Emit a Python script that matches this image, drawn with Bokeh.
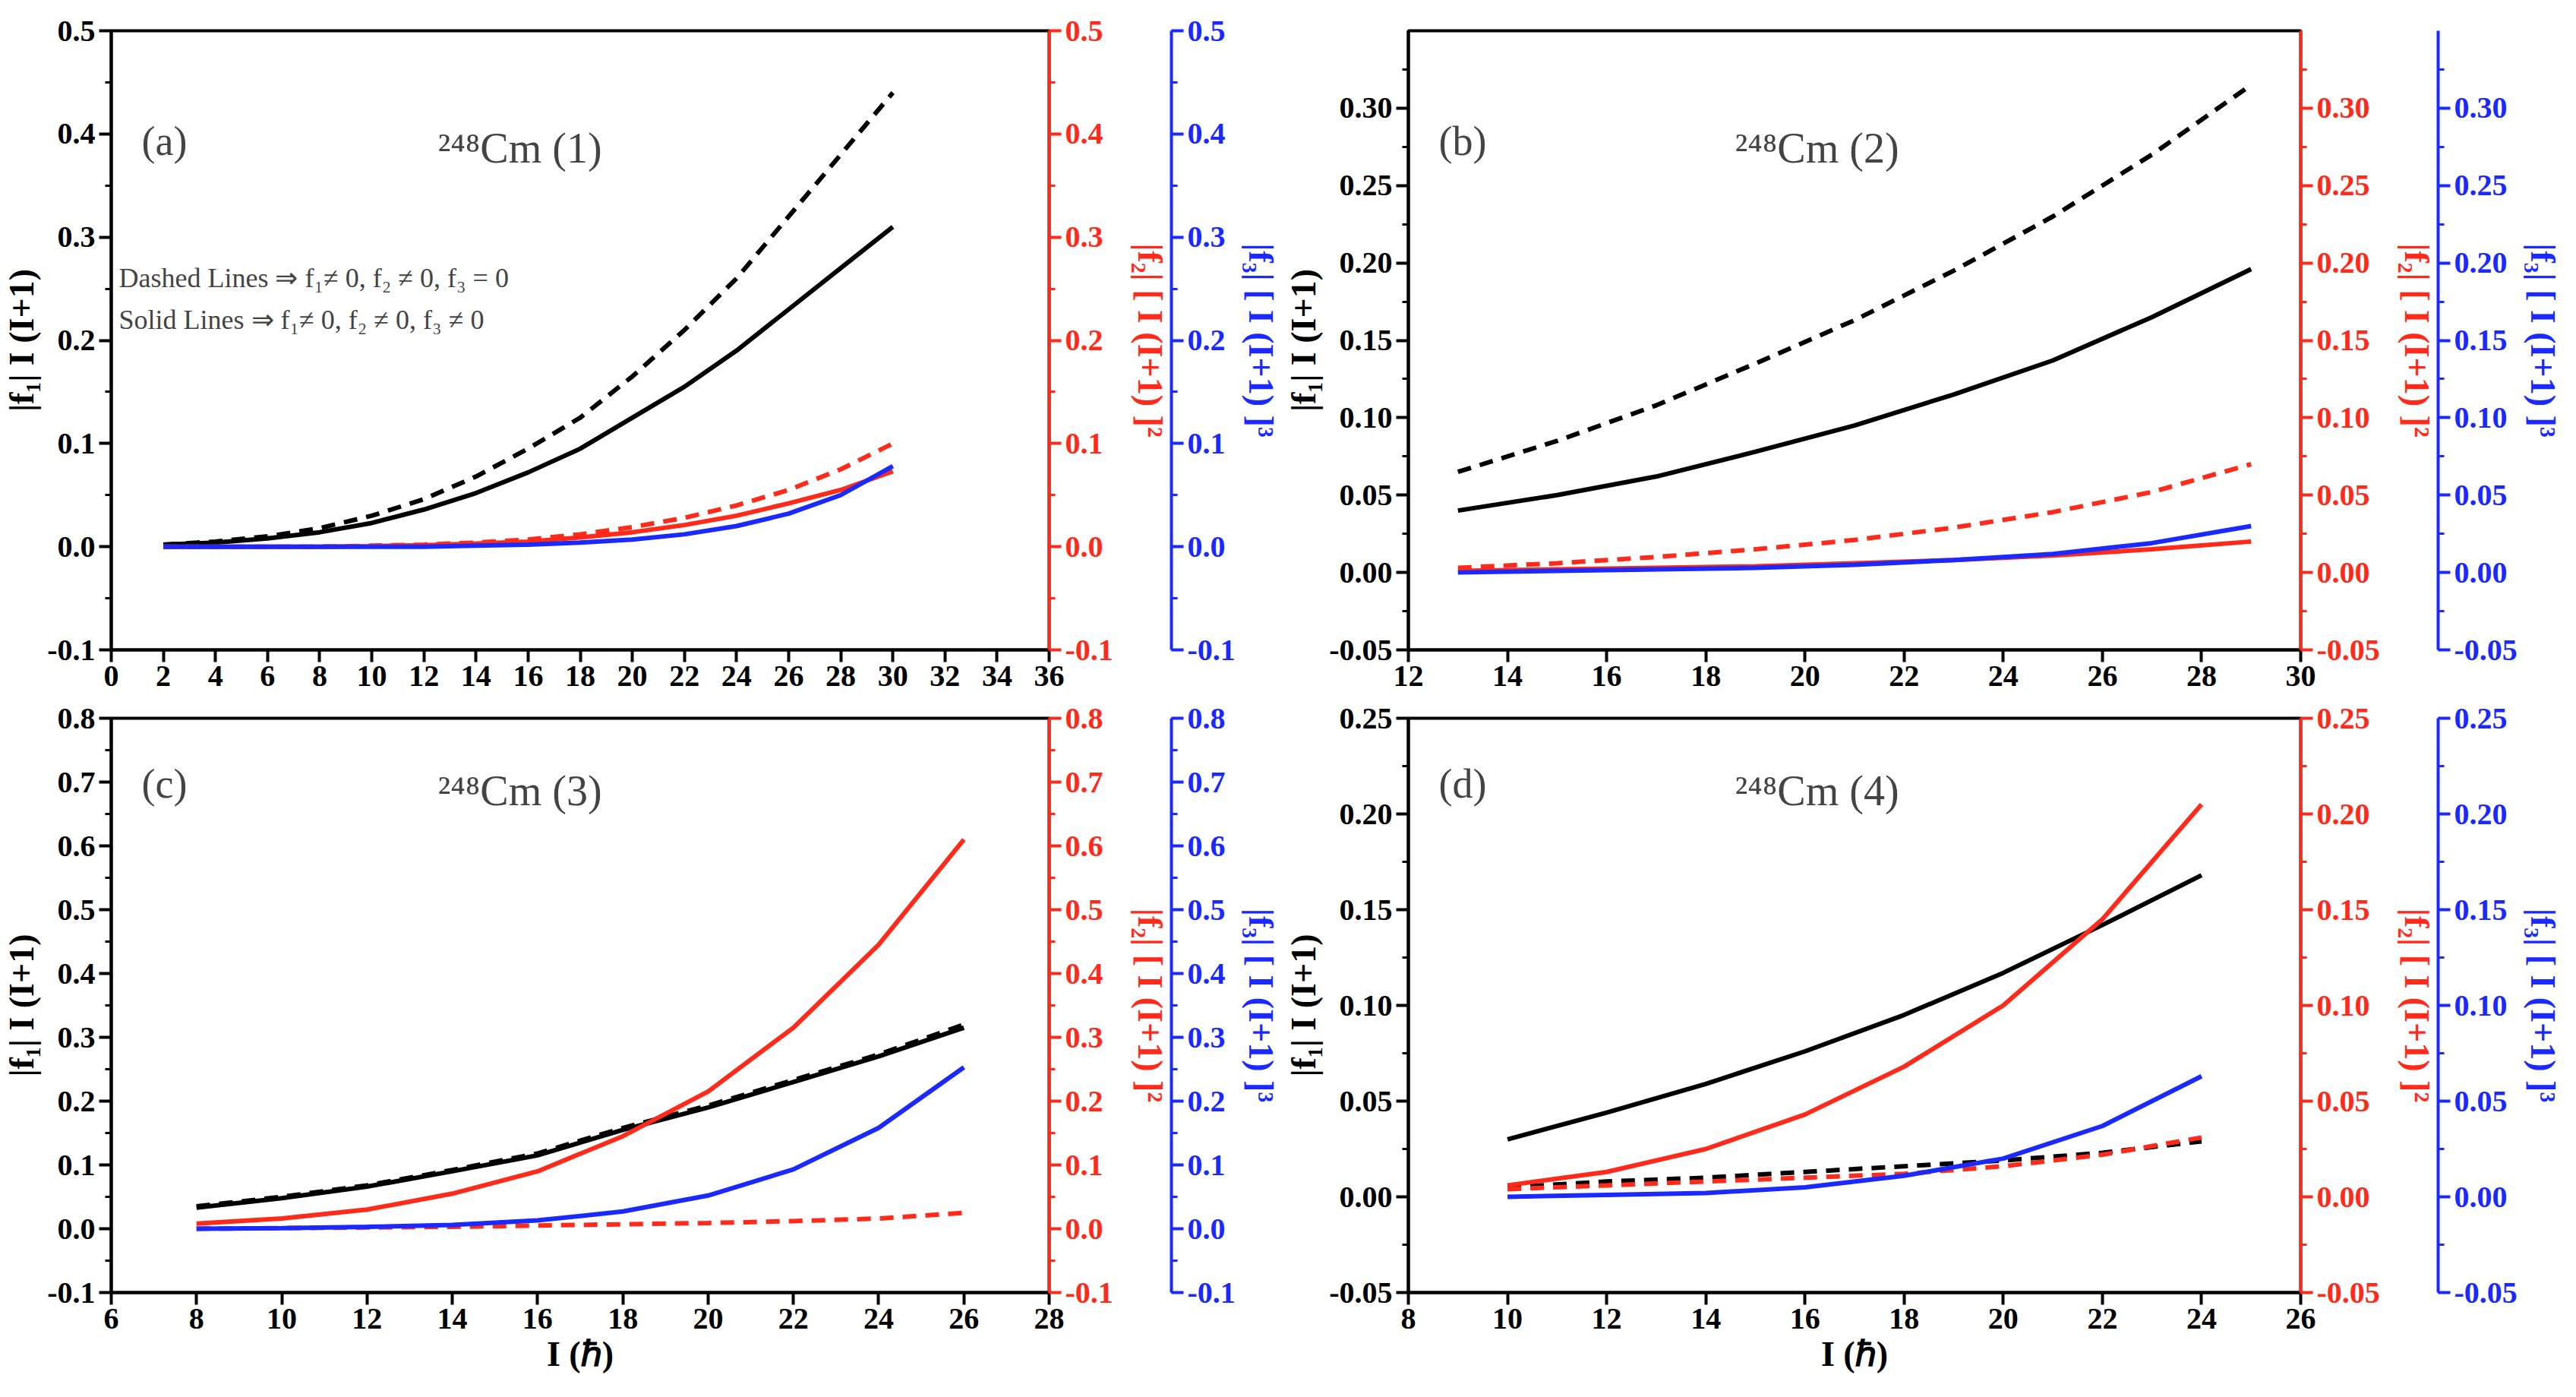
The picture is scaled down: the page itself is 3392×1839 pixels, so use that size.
from bokeh.plotting import figure
from bokeh.models import Range1d, LinearAxis, Label, PrintfTickFormatter, SingleIntervalTicker
from bokeh.layouts import gridplot
from bokeh.embed import file_html
from bokeh.resources import INLINE

# ---- data ----
xa = [2,4,6,8,10,12,14,16,18,20,22,24,26,28,30]
a_f1_dash = [0.002,0.005,0.010,0.018,0.030,0.046,0.068,0.095,0.125,0.165,0.210,0.260,0.320,0.380,0.440]
a_f1_sol  = [0.002,0.004,0.008,0.014,0.023,0.036,0.052,0.072,0.095,0.125,0.155,0.190,0.230,0.270,0.310]
a_f2_dash = [0,0,0,0,0.001,0.002,0.004,0.007,0.012,0.019,0.028,0.040,0.055,0.075,0.100]
a_f2_sol  = [0,0,0,0,0.0005,0.0015,0.003,0.005,0.009,0.014,0.021,0.030,0.042,0.055,0.073]
a_f3_sol  = [0,0,0,0,0,0,0.001,0.002,0.004,0.007,0.012,0.020,0.032,0.050,0.078]

xb = [13,15,17,19,21,23,25,27,29]
b_f1_dash = [0.065,0.085,0.108,0.135,0.163,0.195,0.230,0.270,0.315]
b_f1_sol  = [0.040,0.050,0.062,0.078,0.095,0.115,0.137,0.165,0.196]
b_f2_dash = [0.003,0.006,0.010,0.015,0.021,0.029,0.039,0.052,0.070]
b_f2_sol  = [0.001,0.002,0.003,0.004,0.006,0.008,0.011,0.015,0.020]
b_f3_sol  = [0.000,0.001,0.002,0.003,0.005,0.008,0.012,0.019,0.030]

xc = [8,10,12,14,16,18,20,22,24,26]
c_f1_dash = [0.035,0.050,0.068,0.092,0.118,0.158,0.193,0.233,0.273,0.320]
c_f1_sol  = [0.033,0.048,0.066,0.090,0.115,0.155,0.190,0.230,0.270,0.315]
c_f2_dash = [0.000,0.001,0.002,0.003,0.005,0.007,0.009,0.012,0.016,0.025]
c_f2_sol  = [0.008,0.016,0.030,0.055,0.090,0.145,0.215,0.315,0.445,0.610]
c_f3_sol  = [0.000,0.001,0.003,0.006,0.013,0.027,0.052,0.093,0.158,0.253]

xd = [10,12,14,16,18,20,22,24]
d_f1_dash = [0.005,0.008,0.010,0.013,0.016,0.019,0.023,0.029]
d_f1_sol  = [0.030,0.044,0.059,0.076,0.095,0.117,0.142,0.168]
d_f2_dash = [0.004,0.006,0.008,0.010,0.012,0.016,0.022,0.031]
d_f2_sol  = [0.006,0.013,0.025,0.043,0.068,0.100,0.145,0.205]
d_f3_sol  = [0.000,0.001,0.002,0.005,0.011,0.020,0.037,0.063]

FONT = "Liberation Serif"
RED = "#ff2a1a"
BLUE = "#1a2aff"

def style_axis(ax, color, fmt, step):
    ax.axis_line_color = color
    ax.axis_line_width = 4
    ax.major_tick_line_color = color
    ax.minor_tick_line_color = color
    ax.major_tick_line_width = 4
    ax.minor_tick_line_width = 3
    ax.major_tick_in = 0
    ax.major_tick_out = 16
    ax.minor_tick_out = 8
    ax.minor_tick_in = 0
    ax.major_label_text_color = color
    ax.major_label_text_font = FONT
    ax.major_label_text_font_size = "40px"
    ax.major_label_text_font_style = "bold"
    ax.axis_label_text_color = color
    ax.axis_label_text_font = FONT
    ax.axis_label_text_font_size = "46px"
    ax.axis_label_text_font_style = "bold"
    ax.formatter = PrintfTickFormatter(format=fmt)
    ax.ticker = SingleIntervalTicker(interval=step, num_minor_ticks=2)

def panel(x, ser, xr, yr, ystep, fmt, tag, title, xlabel, legend=False):
    p = figure(width=1688, height=905, output_backend="svg", toolbar_location=None,
               x_range=Range1d(*xr), y_range=Range1d(*yr),
               min_border_left=40, min_border_top=40, min_border_right=30)
    p.grid.visible = False
    p.outline_line_color = "black"
    p.outline_line_width = 4
    p.extra_y_ranges = {"r": Range1d(*yr), "b": Range1d(*yr)}
    style_axis(p.yaxis[0], "black", fmt, ystep)
    p.yaxis[0].axis_label = "|f₁| I (I+1)"
    style_axis(p.xaxis[0], "black", "%d", 2)
    p.xaxis[0].ticker = SingleIntervalTicker(interval=2, num_minor_ticks=0)
    if xlabel:
        p.xaxis[0].axis_label = "I (ℏ)"
    ra = LinearAxis(y_range_name="r", axis_label="|f₂| [ I (I+1) ]²")
    ba = LinearAxis(y_range_name="b", axis_label="|f₃| [ I (I+1) ]³")
    style_axis(ra, RED, fmt, ystep)
    style_axis(ba, BLUE, fmt, ystep)
    ra.axis_label_standoff = 20
    p.add_layout(ra, "right")
    p.add_layout(ba, "right")
    for ys, col, dash in ser:
        p.line(x, ys, line_color=col, line_width=6, line_dash=dash)
    p.add_layout(Label(x=40, y=640, x_units="screen", y_units="screen", text=tag,
                       text_font=FONT, text_font_size="54px"))
    p.add_layout(Label(x=430, y=630, x_units="screen", y_units="screen", text=title,
                       text_font=FONT, text_font_size="56px"))
    if legend:
        p.add_layout(Label(x=10, y=470, x_units="screen", y_units="screen",
                           text="Dashed Lines ⇒  f₁≠ 0, f₂ ≠ 0, f₃ = 0",
                           text_font=FONT, text_font_size="36px"))
        p.add_layout(Label(x=10, y=415, x_units="screen", y_units="screen",
                           text="Solid Lines ⇒    f₁≠ 0, f₂ ≠ 0, f₃ ≠ 0",
                           text_font=FONT, text_font_size="36px"))
    return p

D = "18 12"
pa = panel(xa, [(a_f1_dash, "black", D), (a_f1_sol, "black", "solid"),
                (a_f2_dash, RED, D), (a_f2_sol, RED, "solid"), (a_f3_sol, BLUE, "solid")],
           (0, 36), (-0.1, 0.5), 0.1, "%.1f", "(a)", "²⁴⁸Cm (1)", False, legend=True)
pb = panel(xb, [(b_f1_dash, "black", D), (b_f1_sol, "black", "solid"),
                (b_f2_dash, RED, D), (b_f2_sol, RED, "solid"), (b_f3_sol, BLUE, "solid")],
           (12, 30), (-0.05, 0.35), 0.05, "%.2f", "(b)", "²⁴⁸Cm (2)", False)
pc = panel(xc, [(c_f1_dash, "black", D), (c_f1_sol, "black", "solid"),
                (c_f2_dash, RED, D), (c_f2_sol, RED, "solid"), (c_f3_sol, BLUE, "solid")],
           (6, 28), (-0.1, 0.8), 0.1, "%.1f", "(c)", "²⁴⁸Cm (3)", True)
pd_ = panel(xd, [(d_f1_dash, "black", D), (d_f1_sol, "black", "solid"),
                 (d_f2_dash, RED, D), (d_f2_sol, RED, "solid"), (d_f3_sol, BLUE, "solid")],
            (8, 26), (-0.05, 0.25), 0.05, "%.2f", "(d)", "²⁴⁸Cm (4)", True)

g = gridplot([[pa, pb], [pc, pd_]], toolbar_location=None)
open("out.html", "w").write(file_html(g, INLINE))
